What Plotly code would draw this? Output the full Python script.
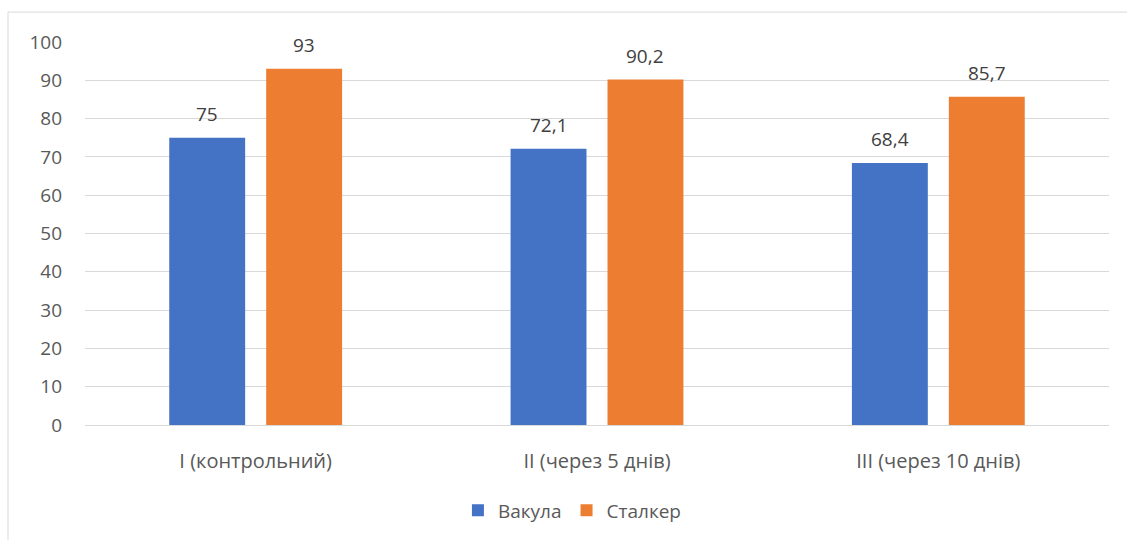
import plotly.graph_objects as go

categories = ["I (контрольний)", "II (через 5 днів)", "III (через 10 днів)"]
series_names = ["Вакула", "Сталкер"]
vakula = [75, 72.1, 68.4]
stalker = [93, 90.2, 85.7]
y_ticks = [0, 10, 20, 30, 40, 50, 60, 70, 80, 90, 100]

colors = ["#4472C4", "#ED7D31"]
FONT = "Open Sans"
W, H = 1127, 540
ML, MR, MT, MB = 85, 18, 42, 114

fig = go.Figure()
for name, vals, col in zip(series_names, [vakula, stalker], colors):
    fig.add_trace(go.Bar(x=categories, y=vals, name=name, marker=dict(color=col, line=dict(width=0))))

annotations = []
pw = W - ML - MR
slot = pw / len(categories) * (1 - 0.432) / 2
for i, vals in enumerate([vakula, stalker]):
    shift = (i - 0.5) * slot
    for c, v in zip(categories, vals):
        annotations.append(dict(
            x=c, y=v, xref="x", yref="y", text=f"{v:g}".replace(".", ","),
            showarrow=False, yanchor="bottom", xshift=shift, yshift=9,
            font=dict(family=FONT, size=19, color="#404040")))

ph = H - MT - MB
fig.update_layout(
    width=W, height=H,
    margin=dict(l=ML, r=MR, t=MT, b=MB),
    paper_bgcolor="white", plot_bgcolor="white",
    barmode="group", bargap=0.432, bargroupgap=0.217,
    font=dict(family=FONT, size=19, color="#595959"),
    showlegend=True,
    legend=dict(orientation="h", x=0.476, xanchor="center", y=-0.22, yanchor="middle",
                font=dict(family=FONT, size=19, color="#595959"), itemwidth=30,
                traceorder="normal"),
    annotations=annotations,
    shapes=[dict(type="rect", xref="paper", yref="paper",
                 x0=(8 - ML) / pw, x1=(W + 5 - ML) / pw,
                 y0=-(MB + 5) / ph, y1=(H - MB - 12) / ph,
                 line=dict(color="#D9D9D9", width=1), fillcolor="rgba(0,0,0,0)", layer="below")],
)
fig.update_yaxes(range=[0, 100], tickvals=y_ticks, showgrid=True, gridcolor="#D9D9D9",
                 gridwidth=1, zeroline=False, showline=False, ticks="",
                 tickfont=dict(family=FONT, size=19, color="#595959"), ticklabelstandoff=22)
fig.update_xaxes(showline=True, linecolor="#D9D9D9", linewidth=1, ticks="",
                 tickfont=dict(family=FONT, size=20, color="#595959"), ticklabelstandoff=18)

fig.write_html("out.html")
